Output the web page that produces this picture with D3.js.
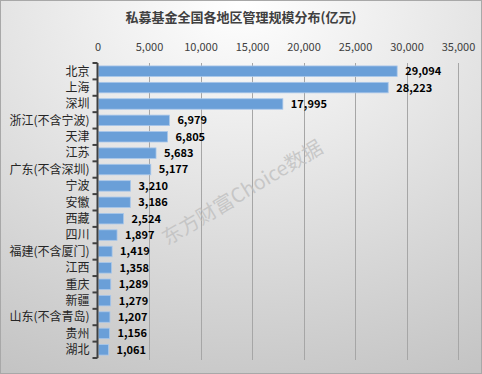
<!DOCTYPE html>
<html>
<head>
<meta charset="utf-8">
<script src="https://cdn.jsdelivr.net/npm/d3@7"></script>
<style>
  body { margin: 0; }
  svg { display: block; }
</style>
</head>
<body>
<div id="chart"></div>
<script>
var width = 482;
var height = 374;

// data
var regions = ["北京", "上海", "深圳", "浙江(不含宁波)", "天津", "江苏", "广东(不含深圳)", "宁波", "安徽", "西藏",
  "四川", "福建(不含厦门)", "江西", "重庆", "新疆", "山东(不含青岛)", "贵州", "湖北"];
var scaleValues = [29094, 28223, 17995, 6979, 6805, 5683, 5177, 3210, 3186, 2524,
  1897, 1419, 1358, 1289, 1279, 1207, 1156, 1061];
var tickValues = [0, 5000, 10000, 15000, 20000, 25000, 30000, 35000];

var titleText = "私募基金全国各地区管理规模分布(亿元)";
var watermark = "东方财富Choice数据";

var margin = {top: 63, right: 24, bottom: 16, left: 97.5};
var font = "'Microsoft YaHei', 'Noto Sans CJK SC', sans-serif";

var svg = d3.select("#chart").append("svg")
    .attr("width", width)
    .attr("height", height);

var defs = svg.append("defs");
var grad = defs.append("radialGradient")
    .attr("id", "bg")
    .attr("cx", "50%").attr("cy", "0%")
    .attr("r", "110%");
grad.append("stop").attr("offset", "0%").attr("stop-color", "#ffffff");
grad.append("stop").attr("offset", "100%").attr("stop-color", "#c4c4c4");

svg.append("rect")
    .attr("x", 0.5).attr("y", 0.5)
    .attr("width", width - 1).attr("height", height - 1)
    .attr("fill", "url(#bg)")
    .attr("stroke", "#a8a8a8");

var x = d3.scaleLinear()
    .domain([0, 35000])
    .range([margin.left, width - margin.right]);

var y = d3.scaleBand()
    .domain(regions)
    .range([margin.top, height - margin.bottom])
    .paddingInner(0.36)
    .paddingOuter(0.18);

// title
svg.append("text")
    .attr("x", 241)
    .attr("y", 22)
    .attr("text-anchor", "middle")
    .style("font-family", font)
    .style("font-size", "13px")
    .style("font-weight", "bold")
    .attr("fill", "#404040")
    .text(titleText);

// gridlines
svg.append("g")
    .selectAll("line")
    .data(tickValues.slice(1))
    .enter().append("line")
    .attr("x1", function (d) { return Math.round(x(d)) + 0.5; })
    .attr("x2", function (d) { return Math.round(x(d)) + 0.5; })
    .attr("y1", margin.top)
    .attr("y2", height - margin.bottom + 2)
    .attr("stroke", "#a6a6a6")
    .attr("stroke-width", 1);

// top axis labels
var xAxis = d3.axisTop(x)
    .tickValues(tickValues)
    .tickFormat(d3.format(","))
    .tickSize(0)
    .tickPadding(12);

var gx = svg.append("g")
    .attr("transform", "translate(0," + margin.top + ")")
    .call(xAxis);
gx.select(".domain").remove();
gx.selectAll("text")
    .style("font-family", font)
    .style("font-size", "11px")
    .attr("fill", "#404040");

// watermark
svg.append("text")
    .attr("transform", "translate(243,194) rotate(-31)")
    .attr("text-anchor", "middle")
    .attr("dominant-baseline", "middle")
    .style("font-family", font)
    .style("font-size", "20px")
    .attr("fill", "#bdbdbd")
    .attr("fill-opacity", 0.75)
    .text(watermark);

// bars
svg.append("g")
    .selectAll("rect")
    .data(scaleValues)
    .enter().append("rect")
    .attr("x", x(0) + 1)
    .attr("y", function (d, i) { return y(regions[i]); })
    .attr("width", function (d) { return x(d) - x(0) - 1; })
    .attr("height", y.bandwidth())
    .attr("fill", "#6a9fd8")
    .attr("stroke", "#a9c7ea")
    .attr("stroke-width", 0.8);

// value labels
svg.append("g")
    .selectAll("text")
    .data(scaleValues)
    .enter().append("text")
    .attr("x", function (d) { return x(d) + 8; })
    .attr("y", function (d, i) { return y(regions[i]) + y.bandwidth() / 2; })
    .attr("dy", "0.36em")
    .style("font-family", font)
    .style("font-size", "11px")
    .style("font-weight", "bold")
    .attr("fill", "#000")
    .text(function (d) { return d3.format(",")(d); });

// left axis with ticks between categories
var gy = svg.append("g");
gy.append("line")
    .attr("x1", margin.left).attr("x2", margin.left)
    .attr("y1", margin.top).attr("y2", height - margin.bottom)
    .attr("stroke", "#404040")
    .attr("stroke-width", 2);

var boundaries = d3.range(regions.length + 1).map(function (i) {
  return margin.top + i * y.step();
});
gy.selectAll("line.tick")
    .data(boundaries)
    .enter().append("line")
    .attr("class", "tick")
    .attr("x1", margin.left - 5).attr("x2", margin.left)
    .attr("y1", function (d) { return d; })
    .attr("y2", function (d) { return d; })
    .attr("stroke", "#404040")
    .attr("stroke-width", 2);

gy.selectAll("text")
    .data(regions)
    .enter().append("text")
    .attr("x", margin.left - 8)
    .attr("y", function (d) { return y(d) + y.bandwidth() / 2; })
    .attr("dy", "0.36em")
    .attr("text-anchor", "end")
    .style("font-family", font)
    .style("font-size", "12px")
    .attr("fill", "#262626")
    .text(function (d) { return d; });
</script>
</body>
</html>
